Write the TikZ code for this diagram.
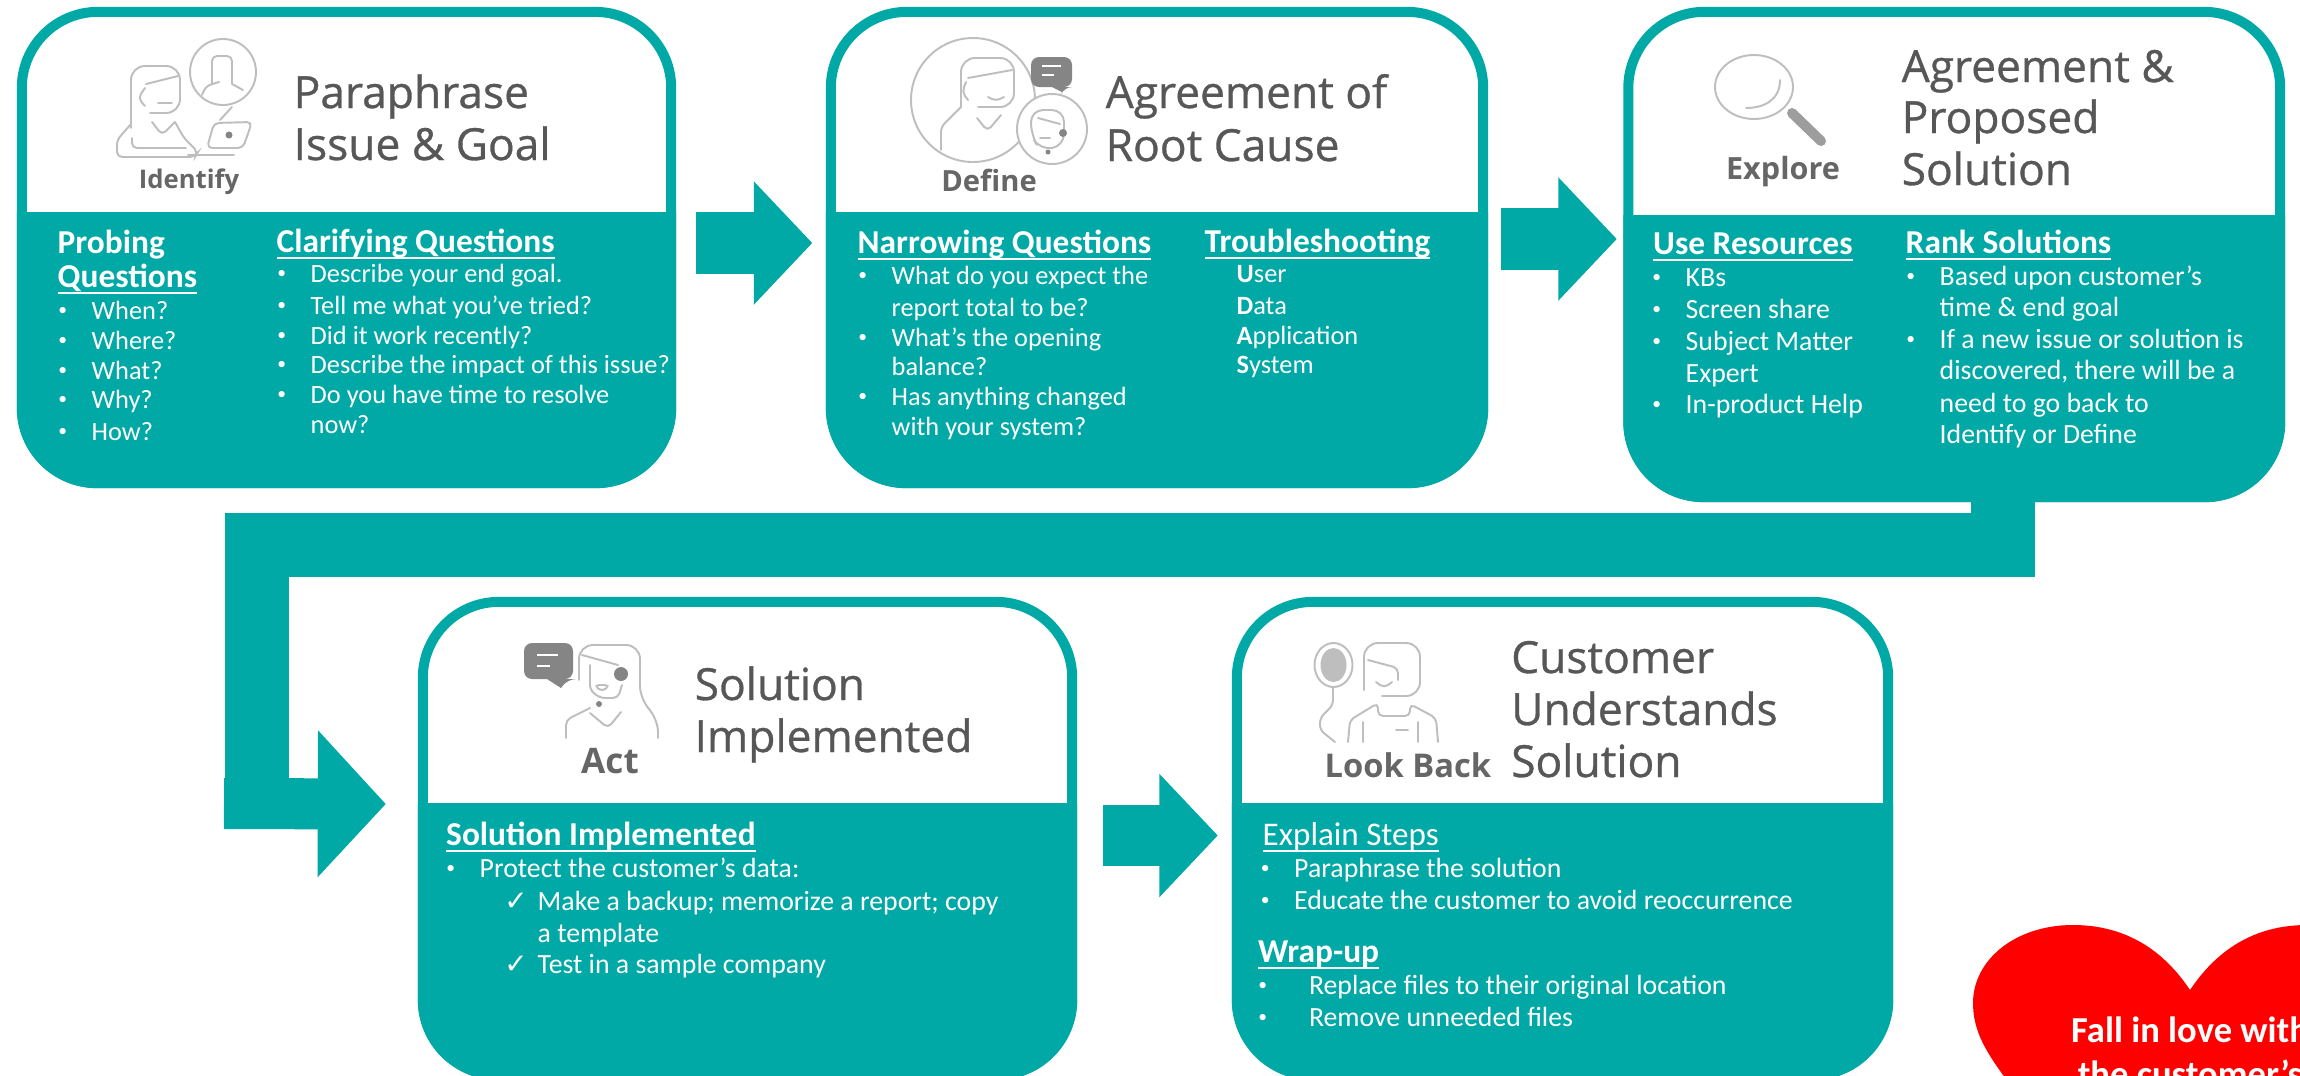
\documentclass[tikz,border=0pt]{standalone}
\usepackage{fontspec}
\setmainfont{Carlito}
\newfontfamily\titlefont[RawFeature={embolden=0.7}]{Open Sans}
\newfontfamily\labelfont{Open Sans}
\newfontfamily\symfont{DejaVu Sans}
\usetikzlibrary{calc,arrows.meta}
\definecolor{cardteal}{HTML}{00A8A6}
\definecolor{titlegray}{HTML}{575757}
\definecolor{labelgray}{HTML}{666666}
\definecolor{icongray}{HTML}{BEBEBE}
\definecolor{bubblegray}{HTML}{858585}
\newcommand{\ulin}[1]{\setbox0=\hbox{#1}\rlap{\rule[-0.065cm]{\wd0}{0.02cm}}\box0}
\newcommand{\bl}[1][0.246cm]{\llap{\raisebox{0.25ex}{\fontsize{5}{6}\selectfont\textbullet}\hspace{#1}}}
\newcommand{\chk}{\llap{{\symfont ✓}\hspace{0.1cm}}}
\tikzset{
  card/.style={shape=rectangle, draw=cardteal, fill=white, line width=0.1cm, rounded corners=0.76cm},
  cardbody/.style={fill=cardteal},
  flowarrow/.style={draw=cardteal, line width=0.61cm, -{Triangle[length=0.585cm,width=1.2cm]}},
  ttl/.style={anchor=base west, inner sep=0pt, text=titlegray, font=\titlefont\fontsize{12.6}{15}\selectfont},
  lbl/.style={anchor=base, inner sep=0pt, text=labelgray, font=\labelfont\bfseries\fontsize{#1}{10}\selectfont},
  hd/.style={anchor=base west, inner sep=0pt, text=white, font=\bfseries\fontsize{9.5}{11}\selectfont},
  hdl/.style={anchor=base west, inner sep=0pt, text=white, font=\fontsize{9.4}{11}\selectfont},
  txt/.style={anchor=base west, inner sep=0pt, text=white, font=\fontsize{7.5}{9}\selectfont},
  txtb/.style={anchor=base west, inner sep=0pt, text=white, font=\fontsize{7.9}{9}\selectfont},
  lovetxt/.style={anchor=base, inner sep=0pt, text=white, font=\bfseries\fontsize{10.4}{12}\selectfont},
  iconline/.style={draw=icongray, line width=0.55pt, rounded corners=0.05cm, line cap=round},
  iconfill/.style={fill=bubblegray, rounded corners=0.08cm}
}
\begin{document}
\begin{tikzpicture}[x=0.01cm, y=-0.01cm]
\useasboundingbox (0,0) rectangle (2300,1075);
\clip (0,0) rectangle (2300,1075);
% cards
\node[card, minimum width=6.49cm, minimum height=4.71cm] (card1) at (346.5,247.5) {};
\node[card, minimum width=6.52cm, minimum height=4.71cm] (card2) at (1157,247.5) {};
\node[card, minimum width=6.515cm, minimum height=4.85cm] (card3) at (1954.25,254.5) {};
\node[card, minimum width=6.49cm, minimum height=4.73cm] (card4) at (747.5,838.5) {};
\node[card, minimum width=6.51cm, minimum height=4.73cm] (card5) at (1562.5,838.5) {};
\fill[cardbody] (card1.west |- 0,212) [rounded corners=0.8cm] -- (card1.south west) -- (card1.south east) [sharp corners] -- (card1.east |- 0,212) -- cycle;
\fill[cardbody] (card2.west |- 0,212) [rounded corners=0.8cm] -- (card2.south west) -- (card2.south east) [sharp corners] -- (card2.east |- 0,212) -- cycle;
\fill[cardbody] (card3.west |- 0,215) [rounded corners=0.8cm] -- (card3.south west) -- (card3.south east) [sharp corners] -- (card3.east |- 0,215) -- cycle;
\fill[cardbody] (card4.west |- 0,803) [rounded corners=0.8cm] -- (card4.south west) -- (card4.south east) [sharp corners] -- (card4.east |- 0,803) -- cycle;
\fill[cardbody] (card5.west |- 0,803) [rounded corners=0.8cm] -- (card5.south west) -- (card5.south east) [sharp corners] -- (card5.east |- 0,803) -- cycle;
% block arrows
\draw[flowarrow] ($(card1.east)+(20,-4.5)$) -- ($(card2.west)+(-13.5,-4.5)$);
\draw[flowarrow] ($(card2.east)+(12.7,-8.5)$) -- ($(card3.west)+(-6.5,-15.5)$);
\draw[flowarrow] ($(card4.east)+(26,-3)$) -- ($(card5.west)+(-14,-3)$);
\coordinate (bend1) at (257,545);
\coordinate (bend2) at (257,829);
\coordinate (tail4) at (224,803.5);
\draw[draw=cardteal, line width=0.64cm] ($(card3.south)+(48.75,-2)$) |- (bend1) -- (bend2);
\draw[flowarrow, line width=0.51cm, -{Triangle[length=0.68cm,width=1.43cm]}] (tail4) -- ($(card4.west)+(-32,-34.5)$);
% icon identify
\draw[iconline] (223,72) circle[radius=33];
\draw[iconline] (212,84) -- (212,56) -- (232,56) -- (232,84) (202,95) -- (206,86) -- (219,82) (232,84) -- (243,90);
\draw[iconline] (232,107) -- (220,120);
\draw[iconline, rounded corners=0.14cm] (131,128) -- (131,66) -- (180,66) -- (180,113) -- (150,113);
\draw[iconline] (146,84) -- (178,76) (145,88) -- (138,98) -- (145,106) (158,103) -- (172,103);
\draw[iconline] (131,124) -- (117,140) -- (117,157) -- (195,157) -- (198,152) -- (184,138) -- (175,122);
\draw[iconline] (152,122) -- (162,135) -- (175,122) (132,138) -- (132,148) -- (186,148);
\draw[iconline] (214,123) -- (252,122) -- (243,148) -- (207,148) -- cycle (188,155) -- (234,155);
\fill[bubblegray] (229,135) circle[radius=3.5];
\node[lbl=7.3] (idlabel) at (189,188) {Identify};
% icon define
\draw[iconline] (973,100) circle[radius=62];
\draw[iconline, rounded corners=0.14cm] (961,107) -- (961,58) -- (1014,58) -- (1014,107) -- (978,107);
\draw[iconline] (968,78) -- (1012,70) (966,82) -- (962,92) -- (968,100) (988,97) -- (996,101) -- (1004,97);
\draw[iconline] (961,107) -- (941,127) -- (941,150) (977,118) -- (987.5,131) -- (1001,115);
\draw[iconline, fill=white] (1052,129) circle[radius=35];
\draw[iconline, rounded corners=0.12cm] (1031,110) -- (1064,110) -- (1064,146) -- (1040,150) -- (1031,135) -- cycle;
\draw[iconline] (1038,118) -- (1060,124) (1040,138) -- (1050,138);
\fill[bubblegray] (1063,133) circle[radius=4] (1048,152) circle[radius=2.5];
\fill[iconfill] (1031,57) -- (1072,57) -- (1072,87) -- (1064,87) [sharp corners] -- (1062,92) -- (1052,87) [rounded corners=0.08cm] -- (1031,87) -- cycle;
\draw[white, line width=0.5pt] (1042,66) -- (1061,66) (1042,75) -- (1054,75);
\node[lbl=8.3] (dflabel) at (989,191) {Define};
% icon explore
\draw[iconline] (1754,87) ellipse[x radius=39, y radius=32];
\draw[iconline] (1780,80) .. controls (1780,100) and (1764,108) .. (1746,108);
\draw[draw=bubblegray!80, line width=0.1cm, line cap=round] (1792,113) -- (1821,141);
\node[lbl=8.7] (exlabel) at (1783,179) {Explore};
% icon act
\fill[iconfill] (524,643) -- (573,643) -- (573,679) -- (568,679) [sharp corners] -- (561,688) -- (547,679) [rounded corners=0.08cm] -- (524,679) -- cycle;
\draw[white, line width=0.5pt] (537,655) -- (558,655) (537,666) -- (550,666);
\draw[iconline, rounded corners=0.14cm] (579,680) -- (579,645) -- (640,645) -- (640,700) -- (658,718) -- (658,738);
\draw[iconline] (582,655) -- (618,665) (590,665) -- (590,690) -- (600,698) -- (618,698) -- (622,685);
\draw[iconline] (566,738) -- (566,720) -- (590,708) (590,713) -- (608,728) -- (621,712);
\draw[iconline] (594,685) -- (610,685) -- (602,692) -- cycle;
\fill[bubblegray] (621,674) circle[radius=7] (599,704) circle[radius=3];
\node[lbl=10] (aclabel) at (610,773) {Act};
% icon look back
\draw[iconline] (1333.5,665) ellipse[x radius=19, y radius=22];
\fill[icongray] (1333.5,665) ellipse[x radius=13, y radius=17];
\draw[iconline] (1333,687) -- (1333,705) -- (1320,718) -- (1320,730) -- (1335,742);
\draw[iconline, rounded corners=0.14cm] (1364,690) -- (1364,643) -- (1420,643) -- (1420,696) -- (1382,696);
\draw[iconline] (1368,660) -- (1398,668) -- (1398,680) (1376,682) -- (1384,688) -- (1392,682);
\draw[iconline] (1348,742) -- (1350,720) -- (1378,703) -- (1378,716) -- (1410,716) -- (1410,704) -- (1436,718) -- (1438,742) (1363,742) -- (1363,722) (1418,742) -- (1418,722) (1396,730) -- (1408,730);
\node[lbl=9.3] (lblabel) at (1408,777) {Look Back};
% titles
\node[ttl] (t1a) at (293,108) {Paraphrase};
\node[ttl] (t1b) at (293,160) {Issue \& Goal};
\node[ttl] (t2a) at (1105,108) {Agreement of};
\node[ttl] (t2b) at (1105,161) {Root Cause};
\node[ttl] (t3a) at (1901,82) {Agreement \&};
\node[ttl] (t3b) at (1901,133) {Proposed};
\node[ttl] (t3c) at (1901,185) {Solution};
\node[ttl] (t4a) at (694,700) {Solution};
\node[ttl] (t4b) at (694,752) {Implemented};
\node[ttl] (t5a) at (1510.5,673) {Customer};
\node[ttl] (t5b) at (1510.5,725) {Understands};
\node[ttl] (t5c) at (1510.5,777) {Solution};
% card 1 text
\node[hd] (h1a) at (57,253) {Probing};
\node[hd] (h1b) at (57,287) {\ulin{Questions}};
\node[txt] (q1) at (91,319) {\bl When?};
\node[txt] (q2) at (91,349) {\bl Where?};
\node[txt] (q3) at (91,379) {\bl What?};
\node[txt] (q4) at (91,408) {\bl Why?};
\node[txt] (q5) at (91,440) {\bl How?};
\node[hd] (h1c) at (276,252) {\ulin{Clarifying Questions}};
\node[txt] (c1) at (310,282) {\bl Describe your end goal.};
\node[txt] (c2) at (310,314) {\bl Tell me what you’ve tried?};
\node[txt] (c3) at (310,344) {\bl Did it work recently?};
\node[txt] (c4) at (310,373) {\bl Describe the impact of this issue?};
\node[txt] (c5) at (310,403) {\bl Do you have time to resolve};
\node[txt] (c6) at (310,433) {now?};
% card 2 text
\node[hd] (h2a) at (857,253) {\ulin{Narrowing Questions}};
\node[txt] (n1) at (891,284) {\bl What do you expect the};
\node[txt] (n2) at (891,316) {report total to be?};
\node[txt] (n3) at (891,346) {\bl What’s the opening};
\node[txt] (n4) at (891,375) {balance?};
\node[txt] (n5) at (891,405) {\bl Has anything changed};
\node[txt] (n6) at (891,435) {with your system?};
\node[hd] (h2b) at (1204,252) {\ulin{Troubleshooting}};
\node[txt] (s1) at (1236,282) {\textbf{U}ser};
\node[txt] (s2) at (1236,314) {\textbf{D}ata};
\node[txt] (s3) at (1236,344) {\textbf{A}pplication};
\node[txt] (s4) at (1236,373) {\textbf{S}ystem};
% card 3 text
\node[hd] (h3a) at (1652.5,254) {\ulin{Use Resources}};
\node[txtb] (u1) at (1685,286) {\bl KBs};
\node[txtb] (u2) at (1685,318) {\bl Screen share};
\node[txtb] (u3) at (1685,350) {\bl Subject Matter};
\node[txtb] (u4) at (1685,382) {Expert};
\node[txtb] (u5) at (1685,413) {\bl In-product Help};
\node[hd] (h3b) at (1905,253) {\ulin{Rank Solutions}};
\node[txtb] (r1) at (1939,285) {\bl Based upon customer’s};
\node[txtb] (r2) at (1939,316) {time \& end goal};
\node[txtb] (r3) at (1939,348) {\bl If a new issue or solution is};
\node[txtb] (r4) at (1939,379) {discovered, there will be a};
\node[txtb] (r5) at (1939,412) {need to go back to};
\node[txtb] (r6) at (1939,443) {Identify or Define};
% card 4 text
\node[hd] (h4a) at (445.5,845) {\ulin{Solution Implemented}};
\node[txtb] (p1) at (479,877) {\bl Protect the customer's data:};
\node[txtb] (p2) at (537,910) {\chk Make a backup; memorize a report; copy};
\node[txtb] (p3) at (537,942) {a template};
\node[txtb] (p4) at (537,973) {\chk Test in a sample company};
% card 5 text
\node[hdl] (h5a) at (1262,845) {\ulin{Explain Steps}};
\node[txtb] (e1) at (1293.5,877) {\bl Paraphrase the solution};
\node[txtb] (e2) at (1293.5,909) {\bl Educate the customer to avoid reoccurrence};
\node[hd] (h5b) at (1257.4,962) {\ulin{Wrap-up}};
\node[txtb] (w1) at (1302,994) {\bl[0.356cm] Replace files to their original location};
\node[txtb] (w2) at (1302,1026) {\bl[0.356cm] Remove unneeded files};
% heart
\fill[red] (2190,990) .. controls (2160,945) and (2120,925) .. (2073,925) .. controls (2015,925) and (1973,960) .. (1973,1003) .. controls (1973,1030) and (1985,1050) .. (2003,1075) .. controls (2040,1130) and (2120,1200) .. (2190,1250) .. controls (2260,1200) and (2340,1130) .. (2377,1075) .. controls (2395,1050) and (2407,1030) .. (2407,1003) .. controls (2407,960) and (2365,925) .. (2307,925) .. controls (2260,925) and (2220,945) .. (2190,990) -- cycle;
\node[lovetxt] (love1) at (2190,1042) {Fall in love with};
\node[lovetxt] (love2) at (2190,1086) {the customer’s};
\end{tikzpicture}
\end{document}
